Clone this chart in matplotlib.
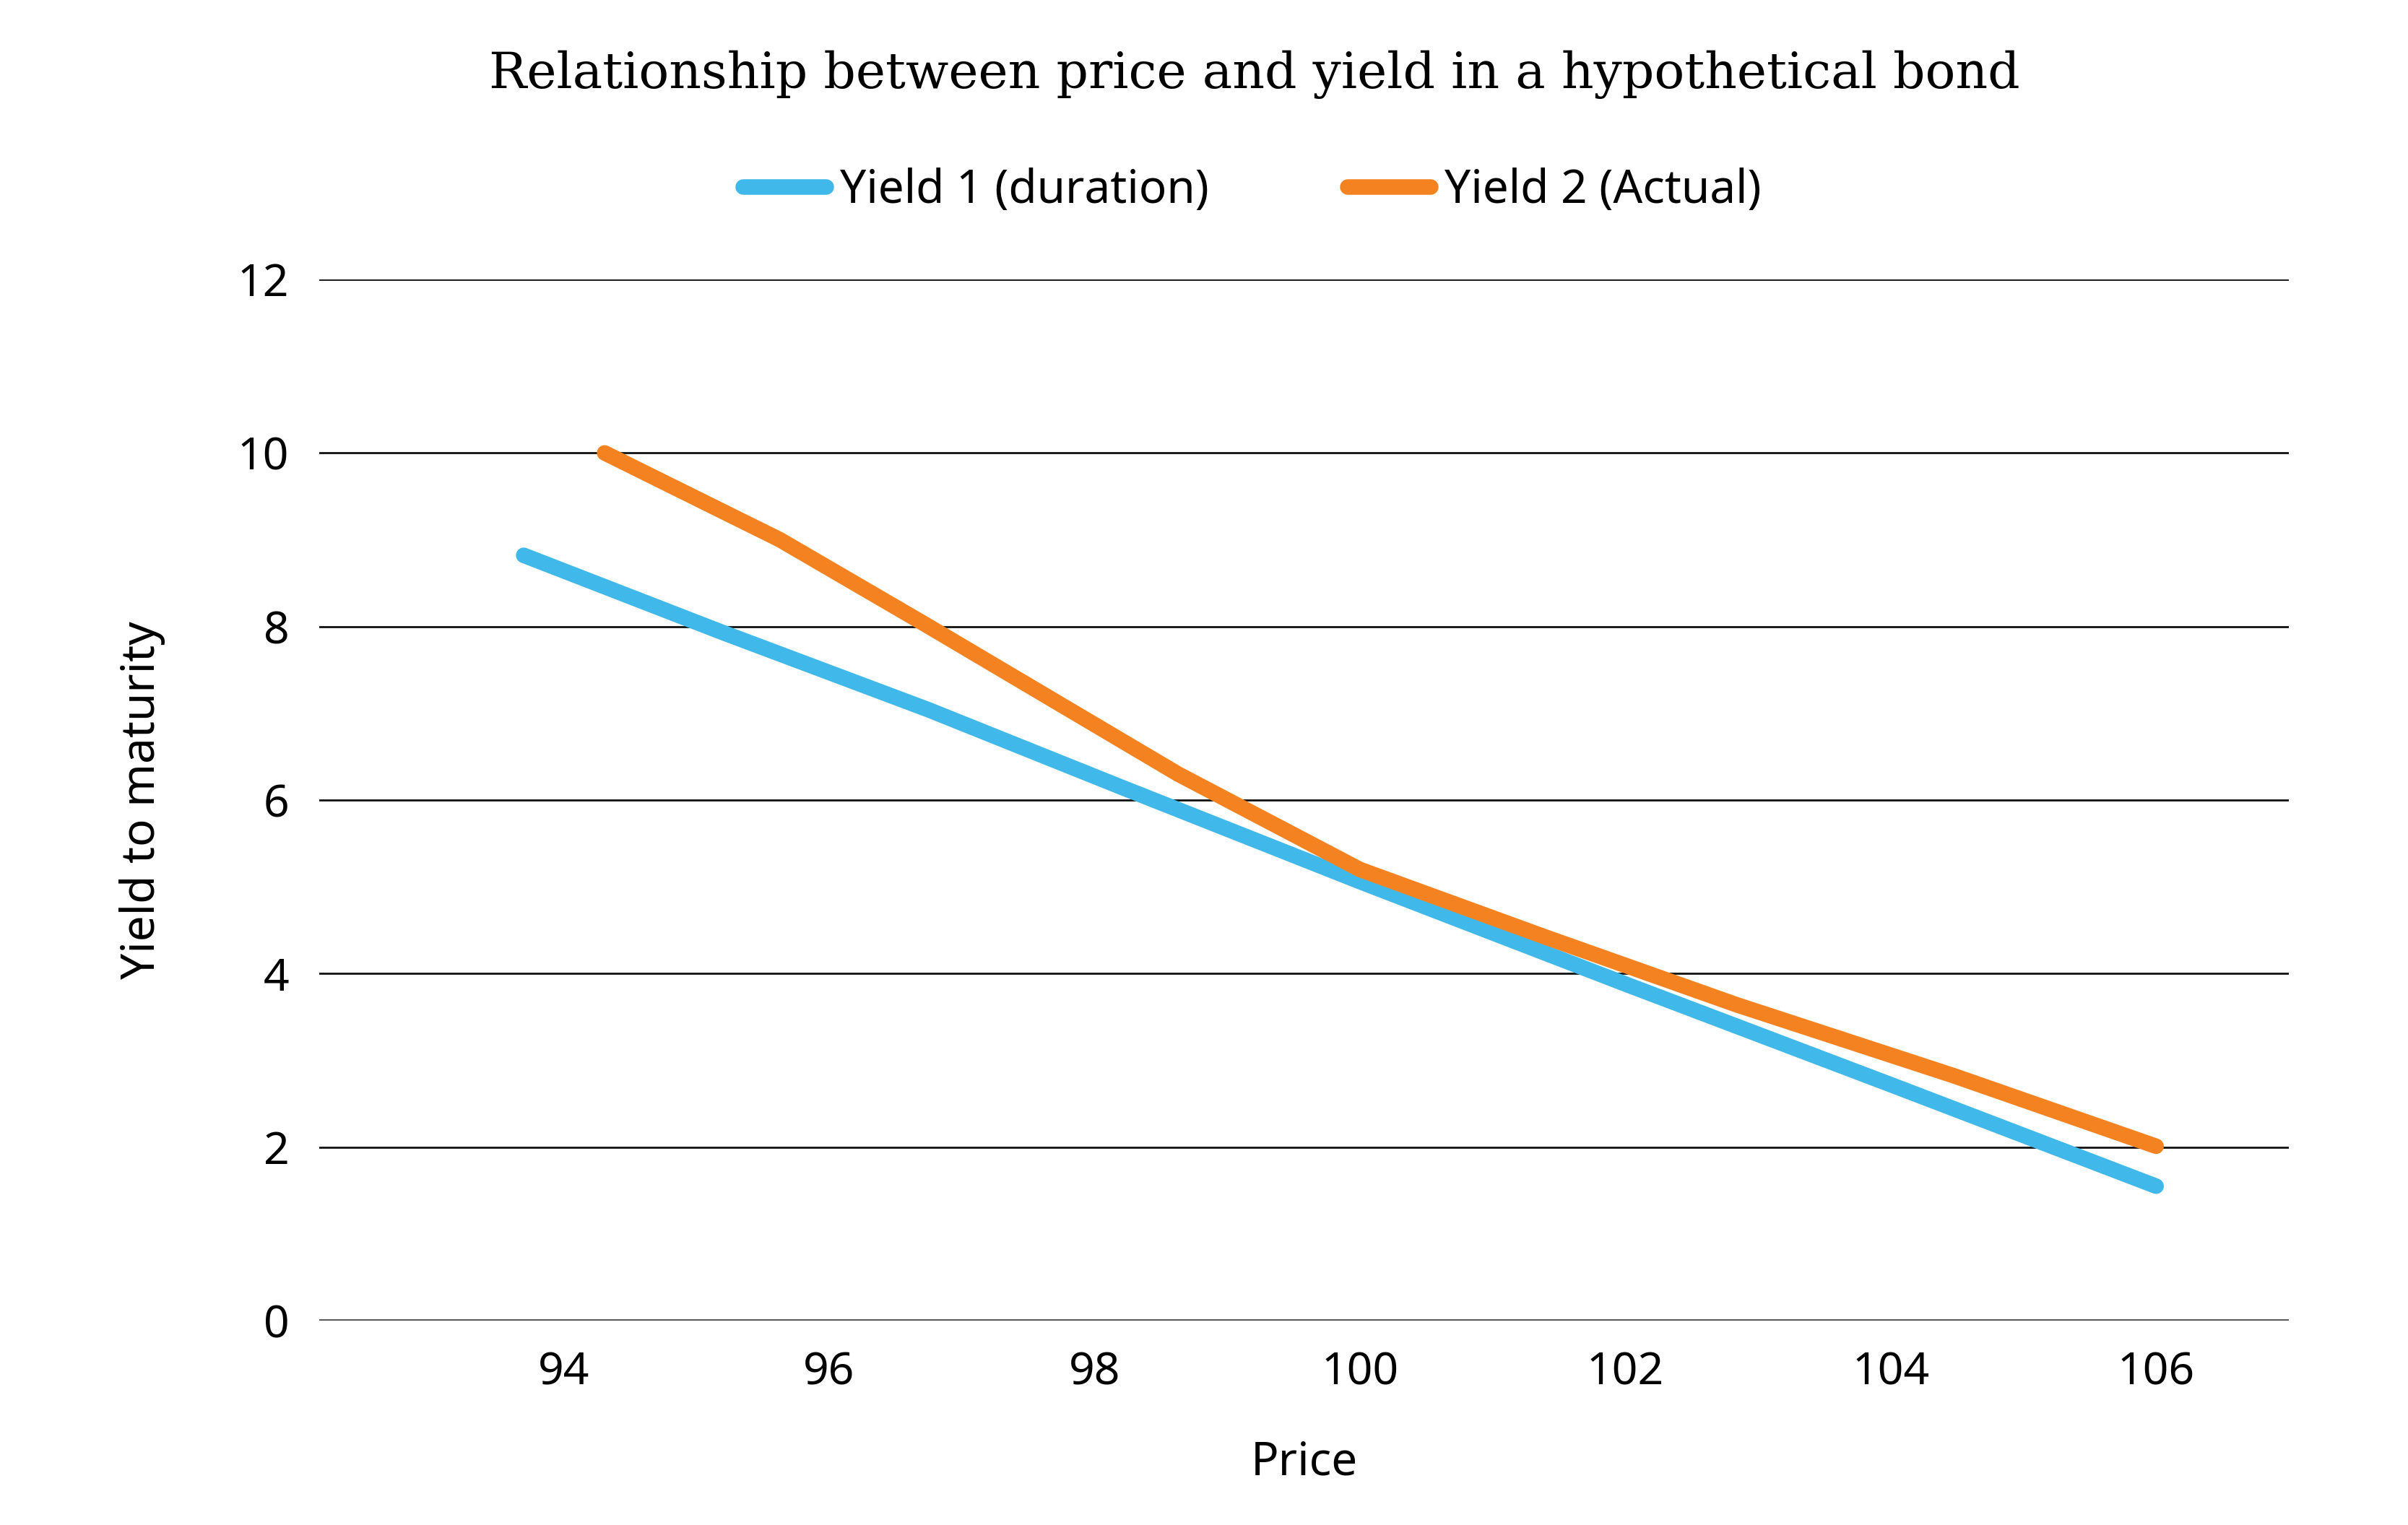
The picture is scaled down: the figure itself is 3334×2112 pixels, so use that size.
import matplotlib
matplotlib.use("Agg")
import matplotlib.pyplot as plt

# data
price_1 = [93.7, 95.2, 96.75, 98.2, 100.0, 102.0, 104.0, 106.0]
yield_1 = [8.82, 7.93, 7.04, 6.15, 5.06, 3.88, 2.72, 1.55]

price_2 = [94.31, 95.63, 96.73, 98.63, 100.0, 101.4, 102.84, 104.48, 106.0]
yield_2 = [10.0, 9.0, 8.02, 6.3, 5.2, 4.42, 3.64, 2.82, 2.01]

x_ticks = [94, 96, 98, 100, 102, 104, 106]
y_ticks = [0, 2, 4, 6, 8, 10, 12]

blue = '#41B8EA'
orange = '#F58220'

plt.rcParams['font.family'] = ['Noto Sans', 'DejaVu Sans']

fig = plt.figure(figsize=(33.34, 21.12), dpi=100)
ax = fig.add_axes([0.1326, 0.134, 0.8179, 0.6828])

for y in y_ticks:
    ax.axhline(y, color='#111111' if y else '#555555', lw=2.0 if y else 2.8, zorder=1)

l1, = ax.plot(price_1, yield_1, color=blue, lw=15.5, solid_capstyle='round',
              solid_joinstyle='round', zorder=3, label='Yield 1 (duration)')
l2, = ax.plot(price_2, yield_2, color=orange, lw=15.5, solid_capstyle='round',
              solid_joinstyle='round', zorder=4, label='Yield 2 (Actual)')

ax.set_xlim(92.16, 107.0)
ax.set_ylim(0, 12)
ax.set_xticks(x_ticks)
ax.set_yticks(y_ticks)
ax.tick_params(length=0, labelsize=45, pad=30)
for s in ax.spines.values():
    s.set_visible(False)

ax.set_xlabel('Price', fontsize=46, labelpad=44)
ax.set_ylabel('Yield to maturity', fontsize=46, labelpad=72)

fig.text(0.521, 0.951, 'Relationship between price and yield in a hypothetical bond',
         ha='center', va='center', fontsize=50, family='DejaVu Serif')

fig.legend(handles=[l1, l2], loc='center', bbox_to_anchor=(0.52, 0.875), ncol=2,
           frameon=False, fontsize=46, handlelength=1.8, columnspacing=3.0,
           handletextpad=0.3)

fig.savefig('out.png', dpi=100)
